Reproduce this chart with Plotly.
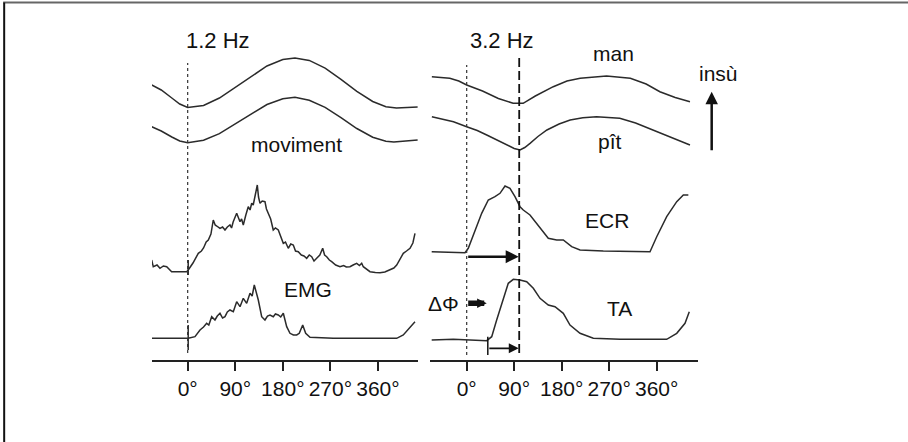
import plotly.graph_objects as go

# ---------------- data (phase in degrees, amplitude in arbitrary units) ----------------
# 1.2 Hz panel
l_man_deg = [-68, -50, -30, -15, 0, 30, 60, 90, 120, 150, 180, 203, 230, 260, 290, 320, 350, 375, 395, 415, 435]
l_man_val = [30, 25, 17, 11, 7.5, 9.6, 17, 27.6, 39, 49, 55.4, 57, 54.6, 46.9, 35.7, 23.6, 13.5, 8.3, 7, 7.5, 8]

l_pit_deg = [-68, -50, -30, -15, 0, 30, 60, 90, 120, 150, 180, 203, 230, 260, 290, 320, 350, 375, 390, 410, 435]
l_pit_val = [28.3, 24, 18, 14, 12.3, 14.7, 21.4, 31, 41.4, 50.5, 56.3, 57.7, 54.8, 47.7, 37.4, 26.5, 17.8, 13.7, 13, 14, 15]

l_emg1_deg = [-68.1, -65.1, -58, -52.4, -46, -39.7, -30.3, -1.9, 1.1, 10, 20.1, 26, 30, 35, 39, 44, 48.4, 52, 55,
              61.1, 66, 70.6, 75, 80, 83, 86, 92.7, 96, 99, 102, 105.2, 110, 114.6, 118, 121.1, 124, 127.3, 131.7,
              134, 136.8, 141, 146.2, 149, 152.5, 157, 161.9, 166, 171.4, 176, 180.9, 185, 190.3, 195, 199.8, 204,
              209.2, 215, 220, 225.1, 230, 234.6, 239, 244, 250, 255.4, 259, 263, 268, 272.4, 280, 288.1, 295, 300,
              307, 313, 319.7, 325, 329.2, 332.2, 338, 344.9, 355, 363.8, 373, 382.7, 390, 395.4, 402, 407.9,
              414, 420.6, 426, 430]
l_emg1_val = [15, 8.3, 10, 6.7, 9, 8.3, 3.3, 3.3, 5, 12, 21.7, 24, 27, 33, 35, 41, 55, 50, 49,
              46.7, 48, 45, 48, 50, 47, 53, 61.7, 57, 53.3, 56, 50, 60, 68.3, 65, 71.7, 70, 80, 90,
              78, 71.7, 74, 73.3, 66, 61.7, 56, 45, 47, 45, 38, 31.7, 33, 26.7, 31, 30, 24,
              23.3, 20, 19, 16.7, 20, 18.3, 14, 16.7, 20, 26.7, 20, 18.3, 15, 13.3, 10, 8.3, 9.5, 8,
              8.3, 10, 11.7, 9.5, 11.7, 8.3, 6, 3.3, 2.5, 2.3, 3, 5, 7, 10, 16, 21.7,
              24, 26.7, 32, 41.7]

l_emg2_deg = [-68.1, 1.1, 13.8, 23.3, 30, 35.9, 40, 45.4, 51.6, 56, 61.1, 66, 70.6, 75, 80, 86.3, 92.7, 99,
              105.2, 111.6, 117.9, 122, 126, 130, 133.6, 140, 146.2, 151, 155.7, 161.9, 166, 171.4, 176, 180.9,
              187.3, 193.5, 200, 206.2, 211.1, 217.6, 223.2, 231.4, 275.4, 351.1, 395.4, 407.9, 420.6, 430]
l_emg2_val = [21.7, 21.7, 23.3, 30, 33, 36.7, 35, 43.3, 40, 44, 46.7, 42, 43.3, 48, 50, 48.3, 58.3, 53.3,
              61.7, 56.7, 66.7, 64, 75, 68, 60, 43.3, 40, 44, 45, 43.3, 46, 45, 43, 46.7,
              33.3, 26.7, 25, 25, 26.7, 35, 26.7, 22.7, 21.7, 21.7, 21.7, 25, 33.3, 38.3]

# 3.2 Hz panel
r_man_deg = [-66, -32, -15, 0, 30, 60, 88, 107, 130, 164, 190, 215, 265, 310, 340, 366, 395, 423]
r_man_val = [38.3, 36.7, 34, 30, 24, 16.5, 11.7, 11.7, 19, 28.3, 34, 36.7, 39, 36.7, 31, 23.3, 17.5, 13.3]

r_pit_deg = [-66, -45, -25, 0, 20, 38, 69, 90, 101, 110, 120, 135, 152, 175, 196, 220, 246, 270, 290, 320, 354, 390, 423]
r_pit_val = [38.3, 36, 33.3, 28.3, 24.5, 20, 11.7, 6.5, 5, 7.5, 11.7, 18.5, 25, 31, 35, 37.3, 38.3, 37.8, 36.7, 32, 25, 17.5, 10]

ecr_deg = [-66.3, -3.2, 3, 15.7, 28.4, 40.9, 53.6, 63.1, 72.6, 82, 91.5, 101, 107.2, 119.9, 138.9, 154.6, 170.5,
           183, 198.9, 214.7, 258.8, 315.7, 347.3, 360, 378.9, 397.9, 410.4, 419.9]
ecr_val = [23.3, 22.3, 26.7, 45, 61.7, 75, 78.3, 81.7, 89, 86.7, 78.3, 68.3, 65, 60, 46.7, 36.7, 35,
           35, 28.3, 25, 24, 23.3, 23.3, 38.3, 58.3, 73.3, 80, 80]

ta_deg = [-66.3, -25.4, 37.9, 47.4, 56.8, 69.3, 78.8, 88.3, 101, 113.7, 126.2, 138.9, 154.6, 167.3, 183, 195.7,
          214.7, 239.9, 290.5, 378.9, 397.9, 413.6, 421.7]
ta_val = [20, 20.7, 19.3, 23.3, 40, 61.7, 76.7, 80.7, 80, 78.3, 71.7, 61.7, 55, 53.3, 46.7, 35,
          26.7, 21.7, 20.7, 20.7, 26.7, 36.7, 48.3]

tick_vals = [0, 90, 180, 270, 360]
tick_text = ["0°", "90°", "180°", "270°", "360°"]

onset_ecr = 0      # ECR onset phase (deg)
onset_ta = 40      # TA onset phase (deg)
ref_phase = 99.5   # dashed reference (movement minimum, 3.2 Hz)

# ---------------- figure ----------------
LC = "#2b2b2b"
fig = go.Figure()

def add(xs, ys, xa, ya):
    fig.add_trace(go.Scatter(x=xs, y=ys, xaxis=xa, yaxis=ya, mode="lines",
                             line=dict(color=LC, width=1.5), hoverinfo="skip", showlegend=False))

add(l_man_deg, l_man_val, "x", "y")
add(l_pit_deg, l_pit_val, "x", "y2")
add(l_emg1_deg, l_emg1_val, "x", "y3")
add(l_emg2_deg, l_emg2_val, "x", "y4")
add(r_man_deg, r_man_val, "x2", "y")
add(r_pit_deg, r_pit_val, "x2", "y2")
add(ecr_deg, ecr_val, "x2", "y3")
add(ta_deg, ta_val, "x2", "y4")

tickfont = dict(family="Liberation Sans Narrow, Arial Narrow, Liberation Sans, Arial", size=21, color="#111")
xcommon = dict(showline=True, linewidth=2, linecolor="#222", ticks="outside", ticklen=9, tickwidth=1.5,
               tickcolor="#222", tickvals=tick_vals, ticktext=tick_text, showgrid=False, zeroline=False,
               anchor="free", position=0.1833, tickfont=tickfont, fixedrange=True)
ycommon = dict(visible=False, fixedrange=True, showgrid=False, zeroline=False)

fig.update_layout(
    width=908, height=442, margin=dict(l=0, r=0, t=0, b=0),
    paper_bgcolor="white", plot_bgcolor="rgba(0,0,0,0)",
    xaxis=dict(domain=[0.1674, 0.46035], range=[-67.5, 435.7], **xcommon),
    xaxis2=dict(domain=[0.47357, 0.76872], range=[-69.5, 438.2], **xcommon),
    yaxis=dict(domain=[0.73982, 0.88688], range=[0, 65], anchor="x", **ycommon),
    yaxis2=dict(domain=[0.64932, 0.79638], range=[0, 65], anchor="x", **ycommon),
    yaxis3=dict(domain=[0.37783, 0.60407], range=[0, 100], anchor="x", **ycommon),
    yaxis4=dict(domain=[0.18552, 0.38914], range=[0, 90], anchor="x", **ycommon),
)

shapes = []
# phase reference lines
shapes.append(dict(type="line", xref="x", yref="paper", x0=0, x1=0, y0=0.2014, y1=0.8575,
                   line=dict(color="#333", width=1.2, dash="dot")))
shapes.append(dict(type="line", xref="x2", yref="paper", x0=0, x1=0, y0=0.1968, y1=0.853,
                   line=dict(color="#333", width=1.2, dash="dot")))
shapes.append(dict(type="line", xref="x2", yref="paper", x0=ref_phase, x1=ref_phase, y0=0.2014, y1=0.8756,
                   line=dict(color="#111", width=1.8, dash="9px,4px")))
# short solid marks at EMG onset (1.2 Hz)
shapes.append(dict(type="line", xref="x", yref="y3", x0=1, x1=1, y0=-5, y1=15, line=dict(color=LC, width=1.5)))
shapes.append(dict(type="line", xref="x", yref="y4", x0=1, x1=1, y0=10, y1=35, line=dict(color=LC, width=1.5)))
# TA onset bar
shapes.append(dict(type="line", xref="x2", yref="y4", x0=onset_ta, x1=onset_ta, y0=5, y1=23.3,
                   line=dict(color="#111", width=1.5)))
# frame (top and left edges)
shapes.append(dict(type="line", xref="paper", yref="paper", x0=0.0035, x1=1, y0=0.9943, y1=0.9943,
                   line=dict(color="#666", width=2)))
shapes.append(dict(type="line", xref="paper", yref="paper", x0=0.0046, x1=0.0046, y0=0, y1=0.9943,
                   line=dict(color="#111", width=2)))
fig.update_layout(shapes=shapes)

ann = []
def text(x, y, s, xref, yref, size=21):
    ann.append(dict(x=x, y=y, xref=xref, yref=yref, text=s, showarrow=False,
                    font=dict(family="Liberation Sans, Arial", size=size, color="#111"),
                    xanchor="center", yanchor="middle"))

text(58, 0.9095, "1.2 Hz", "x", "paper", 22)
text(66, 0.9095, "3.2 Hz", "x2", "paper", 22)
text(278, 0.879, "man", "x2", "paper")
text(272, 0.679, "pît", "x2", "paper")
text(206, 0.672, "moviment", "x", "paper")
text(228, 0.344, "EMG", "x", "paper")
text(265, 0.502, "ECR", "x2", "paper")
text(290, 0.3025, "TA", "x2", "paper")
text(0.791, 0.834, "insù", "paper", "paper")
text(-44, 56.7, "ΔΦ", "x2", "y4")

# arrows
ann.append(dict(x=ref_phase - 1, y=18.3, xref="x2", yref="y3", ax=onset_ecr, ay=18.3, axref="x2", ayref="y3",
                text="", showarrow=True, arrowhead=2, arrowsize=1.0, arrowwidth=2.6, arrowcolor="#111", standoff=0))
ann.append(dict(x=ref_phase - 1, y=11.7, xref="x2", yref="y4", ax=onset_ta, ay=11.7, axref="x2", ayref="y4",
                text="", showarrow=True, arrowhead=2, arrowsize=1.1, arrowwidth=1.8, arrowcolor="#111", standoff=0))
ann.append(dict(x=38, y=56.7, xref="x2", yref="y4", ax=0, ay=56.7, axref="x2", ayref="y4",
                text="", showarrow=True, arrowhead=2, arrowsize=0.35, arrowwidth=5.5, arrowcolor="#111", standoff=0))
ann.append(dict(x=0.7838, y=0.7925, xref="paper", yref="paper", ax=0, ay=60, axref="pixel", ayref="pixel",
                text="", showarrow=True, arrowhead=2, arrowsize=1, arrowwidth=2.5, arrowcolor="#111", standoff=0))
fig.update_layout(annotations=ann)

fig.write_html("out.html", config={"displayModeBar": False},
               post_script="document.body.style.margin='0';document.body.style.overflow='hidden';")
